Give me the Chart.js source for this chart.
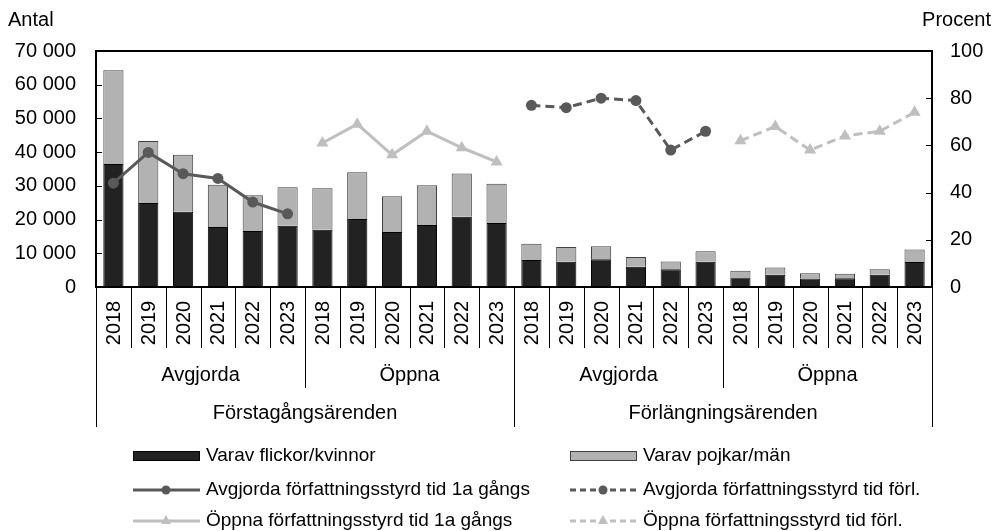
<!DOCTYPE html>
<html>
<head>
<meta charset="utf-8">
<script src="https://cdn.jsdelivr.net/npm/chart.js@4.4.0/dist/chart.umd.min.js"></script>
<style>
  html, body { margin: 0; padding: 0; background: #fff; }
  #wrap { width: 992px; height: 531px; }
</style>
</head>
<body>
<div id="wrap"><canvas id="c" width="992" height="531"></canvas></div>
<script>
const YEARS = ["2018","2019","2020","2021","2022","2023"];
const LABELS = [].concat(YEARS, YEARS, YEARS, YEARS);
const GROUPS = ["Avgjorda","Öppna","Avgjorda","Öppna"];
const TOP_GROUPS = ["Förstagångsärenden","Förlängningsärenden"];

// antal
const flickor = [36500,24900,22300,17800,16600,18200, 17000,20200,16300,18400,20800,19000,
                 8000,7500,8200,6000,5300,7500, 2800,3600,2500,2600,3600,7400];
const pojkar  = [27800,18400,16900,12500,10600,11400, 12300,13800,10600,11800,12900,11600,
                 4800,4400,3900,2900,2300,3100, 2000,2200,1600,1300,1700,3700];

// procent
const avgFirst = [44,57,48,46,36,31];
const oppFirst = [61,69,56,66,59,53];
const avgForl  = [77,76,80,79,58,66];
const oppForl  = [62,68,58,64,66,74];

const FONT = '"Liberation Sans", Arial, sans-serif';
const DARK = "#595959";
const LIGHT = "#bfbfbf";

function place(vals, start) {
  const out = new Array(24).fill(null);
  vals.forEach((v, i) => { out[start + i] = v; });
  return out;
}
function fmtThousands(v) {
  return String(v).replace(/\B(?=(\d{3})+(?!\d))/g, " ");
}

const deco = {
  id: "deco",
  afterDraw(chart) {
    const ctx = chart.ctx, a = chart.chartArea;
    const xs = chart.scales.x, y = chart.scales.y, y1 = chart.scales.y1;
    const cw = (a.right - a.left) / 24;
    ctx.save();

    // inner tick marks
    ctx.strokeStyle = "#000"; ctx.lineWidth = 1;
    y.ticks.forEach(t => {
      const py = Math.round(y.getPixelForValue(t.value)) + 0.5;
      ctx.beginPath(); ctx.moveTo(a.left, py); ctx.lineTo(a.left + 6, py); ctx.stroke();
    });
    y1.ticks.forEach(t => {
      const py = Math.round(y1.getPixelForValue(t.value)) + 0.5;
      ctx.beginPath(); ctx.moveTo(a.right - 6, py); ctx.lineTo(a.right, py); ctx.stroke();
    });

    // frame
    ctx.lineWidth = 2;
    ctx.strokeRect(a.left, a.top, a.right - a.left, a.bottom - a.top);

    // separators under axis
    ctx.lineWidth = 1; ctx.strokeStyle = "#000";
    for (let k = 0; k <= 24; k++) {
      const px = Math.round(a.left + k * cw) + 0.5;
      let end = 348;
      if (k % 12 === 0) end = 427;
      else if (k % 6 === 0) end = 388;
      ctx.beginPath(); ctx.moveTo(px, a.bottom); ctx.lineTo(px, end); ctx.stroke();
    }

    // year labels
    ctx.fillStyle = "#000";
    ctx.font = "20px " + FONT;
    ctx.textAlign = "center"; ctx.textBaseline = "middle";
    LABELS.forEach((lab, i) => {
      const px = xs.getPixelForValue(i);
      ctx.save();
      ctx.translate(px + 1, 323);
      ctx.rotate(-Math.PI / 2);
      ctx.fillText(lab, 0, 0);
      ctx.restore();
    });
    GROUPS.forEach((g, i) => {
      ctx.fillText(g, a.left + (i * 6 + 3) * cw, 375);
    });
    TOP_GROUPS.forEach((g, i) => {
      ctx.fillText(g, a.left + (i * 12 + 6) * cw, 413);
    });

    // axis titles
    ctx.textAlign = "left"; ctx.fillText("Antal", 8, 20);
    ctx.textAlign = "right"; ctx.fillText("Procent", 991, 20);

    // legend
    ctx.font = "19px " + FONT;
    ctx.textAlign = "left";
    const cols = [133, 570], rows = [456, 490, 521];
    const items = [
      { t: "Varav flickor/kvinnor", kind: "box", fill: "#222", stroke: "#000" },
      { t: "Varav pojkar/män", kind: "box", fill: "#b2b2b2", stroke: "#404040" },
      { t: "Avgjorda författningsstyrd tid 1a gångs", kind: "line", color: DARK, dash: [], mk: "circle" },
      { t: "Avgjorda författningsstyrd tid förl.", kind: "line", color: DARK, dash: [6, 4], mk: "circle" },
      { t: "Öppna författningsstyrd tid 1a gångs", kind: "line", color: LIGHT, dash: [], mk: "tri" },
      { t: "Öppna författningsstyrd tid förl.", kind: "line", color: LIGHT, dash: [6, 4], mk: "tri" }
    ];
    items.forEach((it, i) => {
      const x0 = cols[i % 2], yy = rows[Math.floor(i / 2)];
      if (it.kind === "box") {
        ctx.fillStyle = it.fill; ctx.fillRect(x0, yy - 5, 67, 10);
        ctx.strokeStyle = it.stroke; ctx.lineWidth = 1; ctx.strokeRect(x0 + 0.5, yy - 4.5, 66, 9);
      } else {
        ctx.strokeStyle = it.color; ctx.lineWidth = 3; ctx.setLineDash(it.dash);
        ctx.beginPath(); ctx.moveTo(x0, yy); ctx.lineTo(x0 + 67, yy); ctx.stroke();
        ctx.setLineDash([]);
        ctx.fillStyle = it.color;
        const cx = x0 + 33;
        if (it.mk === "circle") {
          ctx.beginPath(); ctx.arc(cx, yy, 4.5, 0, Math.PI * 2); ctx.fill();
        } else {
          ctx.beginPath(); ctx.moveTo(cx, yy - 6); ctx.lineTo(cx + 5, yy + 3); ctx.lineTo(cx - 5, yy + 3); ctx.closePath(); ctx.fill();
        }
      }
      ctx.fillStyle = "#000";
      ctx.fillText(it.t, x0 + 73, yy);
    });
    ctx.restore();
  }
};

const lineDs = (label, data, color, dash, style, r) => ({
  type: "line", label, data, yAxisID: "y1", order: 0,
  borderColor: color, backgroundColor: color, borderWidth: 3, borderDash: dash,
  pointStyle: style, pointRadius: r, pointBorderWidth: 0, pointBackgroundColor: color,
  spanGaps: false, tension: 0
});

new Chart(document.getElementById("c"), {
  type: "bar",
  data: {
    labels: LABELS,
    datasets: [
      { label: "Varav flickor/kvinnor", data: flickor, backgroundColor: "#222", borderColor: "#000",
        borderWidth: 1, order: 1, categoryPercentage: 1, barPercentage: 0.58 },
      { label: "Varav pojkar/män", data: pojkar, backgroundColor: "#b2b2b2", borderColor: "#404040",
        borderWidth: 1, order: 2, categoryPercentage: 1, barPercentage: 0.58 },
      lineDs("Avgjorda författningsstyrd tid 1a gångs", place(avgFirst, 0), DARK, [], "circle", 5.5),
      lineDs("Öppna författningsstyrd tid 1a gångs", place(oppFirst, 6), LIGHT, [], "triangle", 7),
      lineDs("Avgjorda författningsstyrd tid förl.", place(avgForl, 12), DARK, [9, 5], "circle", 5.5),
      lineDs("Öppna författningsstyrd tid förl.", place(oppForl, 18), LIGHT, [9, 5], "triangle", 7)
    ]
  },
  options: {
    responsive: false,
    animation: false,
    devicePixelRatio: 1,
    layout: { padding: { top: 51, bottom: 244, left: 0, right: 0 } },
    plugins: { legend: { display: false }, tooltip: { enabled: false } },
    scales: {
      x: { stacked: true, display: false },
      y: {
        stacked: true, position: "left", min: 0, max: 70000,
        ticks: { stepSize: 10000, padding: 20, color: "#000", font: { family: FONT, size: 20 },
                 callback: v => fmtThousands(v) },
        grid: { display: false, drawTicks: false }, border: { display: false },
        afterFit: s => { s.width = 96; }
      },
      y1: {
        position: "right", min: 0, max: 100,
        ticks: { stepSize: 20, padding: 18, color: "#000", font: { family: FONT, size: 20 } },
        grid: { display: false, drawTicks: false }, border: { display: false },
        afterFit: s => { s.width = 60; }
      }
    }
  },
  plugins: [deco]
});
</script>
</body>
</html>
